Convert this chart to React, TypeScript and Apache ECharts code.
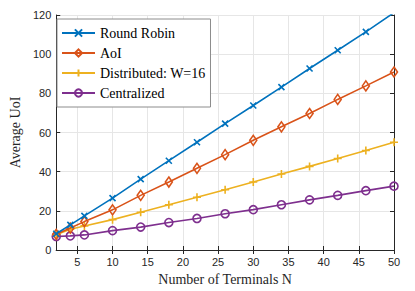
import React, { useEffect, useRef } from "react";
import * as echarts from "echarts";

const terminals = [2, 4, 6, 10, 14, 18, 22, 26, 30, 34, 38, 42, 46, 50];
const roundRobin = [8.3, 12.8, 17.4, 26.5, 36.2, 45.6, 55.0, 64.5, 73.8, 83.2, 92.7, 102.0, 111.4, 121.2];
const aoi = [8.0, 11.2, 14.5, 20.5, 27.9, 34.7, 41.7, 48.7, 56.0, 62.9, 69.7, 76.9, 83.8, 90.9];
const distributed = [7.8, 10.6, 12.3, 15.5, 19.3, 23.1, 26.9, 30.8, 34.7, 38.8, 42.7, 46.7, 50.8, 55.0];
const centralized = [6.9, 7.2, 7.7, 9.9, 11.7, 14.0, 16.1, 18.5, 20.6, 23.1, 25.6, 27.9, 30.3, 32.6];
const xTicks = [5, 10, 15, 20, 25, 30, 35, 40, 45, 50];
const seriesNames = ["Round Robin", "AoI", "Distributed: W=16", "Centralized"];
const colors = ["#0072BD", "#D95319", "#EDB120", "#7E2F8E"];

const sans = "Liberation Sans";
const serif = "Liberation Serif";
const axisColor = "#262626";

export default function App() {
  const ref = useRef<HTMLDivElement>(null);
  useEffect(() => {
    if (!ref.current) return;
    const chart = echarts.init(ref.current, null, { renderer: "svg" });
    const datasets = [roundRobin, aoi, distributed, centralized];
    const symbols = [
      "path://M0,0L10,10M0,10L10,0",
      "diamond",
      "path://M5,0L5,10M0,5L10,5",
      "circle",
    ];
    const sizes: any[] = [6, [7, 10], 8, 8];
    const series = datasets.map((d, i) => ({
      name: seriesNames[i],
      type: "line",
      data: terminals.map((x, j) => [x, d[j]]),
      symbol: symbols[i],
      symbolSize: sizes[i],
      showAllSymbol: true,
      lineStyle: { color: colors[i], width: 1.6 },
      itemStyle: { color: "rgba(0,0,0,0)", borderColor: colors[i], borderWidth: 1.6 },
      z: 10 - i,
    }));
    const xBase = {
      type: "value",
      min: 2,
      max: 50,
      axisLine: { show: true, lineStyle: { color: axisColor, width: 1 } },
      axisTick: { show: true, inside: true, length: 4, customValues: xTicks, lineStyle: { color: axisColor } },
      splitLine: { show: false },
    };
    chart.setOption({
      animation: false,
      backgroundColor: "#ffffff",
      grid: { left: 49, right: 21, top: 15, bottom: 41, containLabel: false },
      legend: {
        data: seriesNames,
        orient: "vertical",
        left: 57,
        top: 19,
        padding: [7, 5, 7, 4],
        itemGap: 6,
        itemWidth: 33,
        itemHeight: 9,
        backgroundColor: "#ffffff",
        borderColor: "#8c8c8c",
        borderWidth: 1,
        borderRadius: 0,
        textStyle: { fontFamily: serif, fontSize: 14, lineHeight: 14, color: "#000" },
      },
      xAxis: [
        {
          ...xBase,
          position: "bottom",
          name: "Number of Terminals N",
          nameLocation: "middle",
          nameGap: 22,
          nameTextStyle: { fontFamily: serif, fontSize: 14, color: axisColor },
          axisLabel: { customValues: xTicks, fontFamily: sans, fontSize: 11, color: axisColor, margin: 6 },
          splitLine: { show: true, lineStyle: { color: "#e6e6e6", width: 1 } },
        },
        {
          ...xBase,
          position: "top",
          axisLabel: { show: false },
        },
      ],
      yAxis: [
        {
          type: "value",
          min: 0,
          max: 120,
          interval: 20,
          position: "left",
          name: "Average UoI",
          nameLocation: "middle",
          nameGap: 33,
          nameTextStyle: { fontFamily: serif, fontSize: 14, color: axisColor },
          axisLine: { show: true, lineStyle: { color: axisColor } },
          axisTick: { show: true, inside: true, length: 4, lineStyle: { color: axisColor } },
          axisLabel: { fontFamily: sans, fontSize: 11, color: axisColor, margin: 5 },
          splitLine: { show: true, lineStyle: { color: "#e6e6e6", width: 1 } },
        },
        {
          type: "value",
          min: 0,
          max: 120,
          interval: 20,
          position: "right",
          axisLine: { show: true, lineStyle: { color: axisColor } },
          axisTick: { show: true, inside: true, length: 4, lineStyle: { color: axisColor } },
          axisLabel: { show: false },
          splitLine: { show: false },
        },
      ],
      series,
    });
    return () => chart.dispose();
  }, []);
  return <div ref={ref} style={{ width: 415, height: 291, position: "absolute", left: 0, top: 0 }} />;
}
